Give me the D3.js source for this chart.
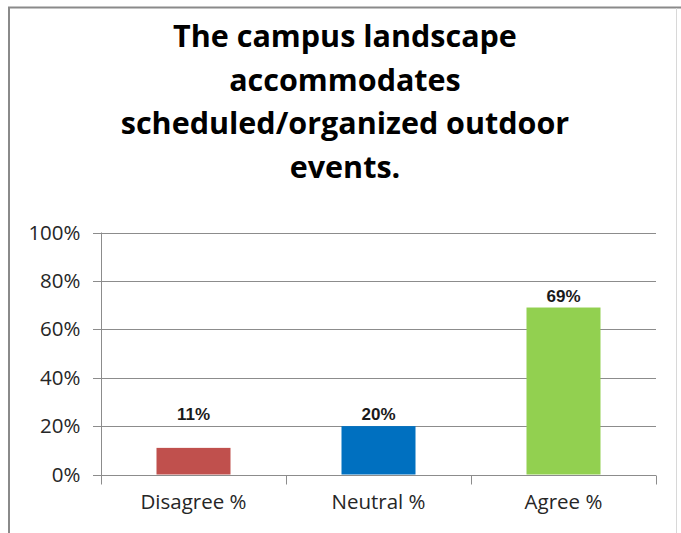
<!DOCTYPE html>
<html>
<head>
<meta charset="utf-8">
<script src="https://cdn.jsdelivr.net/npm/d3@7"></script>
<style>
  html, body { margin: 0; padding: 0; background: #fff; }
  svg { display: block; }
</style>
</head>
<body>
<script>
// chart data
var categories = ["Disagree %", "Neutral %", "Agree %"];
var values = [0.11, 0.20, 0.69];
var barColors = ["#C0504D", "#0070C0", "#92D050"];
var yTicks = [0, 0.2, 0.4, 0.6, 0.8, 1.0];
var titleLines = ["The campus landscape", "accommodates", "scheduled/organized outdoor", "events."];

var width = 681, height = 533;
var svg = d3.select("body").append("svg")
  .attr("width", width)
  .attr("height", height);

// frame
svg.append("rect").attr("x", 0).attr("y", 0).attr("width", width).attr("height", height).attr("fill", "#fff");
svg.append("line").attr("x1", 8).attr("x2", width).attr("y1", 7.5).attr("y2", 7.5)
  .attr("stroke", "#8a8a8a").attr("stroke-width", 2);
svg.append("line").attr("x1", 9).attr("x2", 9).attr("y1", 7).attr("y2", height)
  .attr("stroke", "#8a8a8a").attr("stroke-width", 2);
svg.append("line").attr("x1", 676.5).attr("x2", 676.5).attr("y1", 8).attr("y2", height)
  .attr("stroke", "#d8d8d8").attr("stroke-width", 1);

// title
svg.append("g").selectAll("text")
  .data(titleLines)
  .enter().append("text")
  .attr("x", 345)
  .attr("y", function(d, i) { return 47 + i * 43.5; })
  .attr("text-anchor", "middle")
  .style("font-family", "'Open Sans', Lato, sans-serif")
  .style("font-weight", "bold")
  .style("font-size", "30.5px")
  .attr("fill", "#000")
  .text(function(d) { return d; });

var plot = { left: 101, right: 656, top: 232.5, bottom: 474.5 };

var x = d3.scaleBand()
  .domain(categories)
  .range([plot.left, plot.right])
  .paddingInner(0.6)
  .paddingOuter(0.3);

var y = d3.scaleLinear()
  .domain([0, 1])
  .range([plot.bottom, plot.top]);

// gridlines
svg.append("g").selectAll("line")
  .data(yTicks)
  .enter().append("line")
  .attr("x1", plot.left - 8)
  .attr("x2", plot.right)
  .attr("y1", function(d) { return Math.round(y(d)) + 0.5; })
  .attr("y2", function(d) { return Math.round(y(d)) + 0.5; })
  .attr("stroke", "#8c8c8c")
  .attr("stroke-width", 1);

// y axis
var yAxis = d3.axisLeft(y)
  .tickValues(yTicks)
  .tickFormat(d3.format(".0%"))
  .tickSize(0)
  .tickPadding(21);

var gy = svg.append("g")
  .attr("transform", "translate(" + (plot.left + 0.5) + ",0)")
  .call(yAxis);
gy.select(".domain").attr("stroke", "#8c8c8c").attr("d", "M0," + plot.top + "V" + (plot.bottom + 9));
gy.selectAll("text")
  .style("font-family", "'Open Sans', Lato, sans-serif")
  .style("font-size", "20.5px")
  .attr("fill", "#262626");

// x axis
var xAxis = d3.axisBottom(x).tickSize(0).tickPadding(19);
var gx = svg.append("g")
  .attr("transform", "translate(0," + (Math.round(plot.bottom) + 0.5) + ")")
  .call(xAxis);
gx.select(".domain").attr("stroke", "#8c8c8c").attr("d", "M" + plot.left + ",0H" + plot.right);
gx.selectAll("text")
  .style("font-family", "'Open Sans', Lato, sans-serif")
  .style("font-size", "20.5px")
  .attr("fill", "#262626");

// category dividers
var step = x.step();
gx.append("g").selectAll("line")
  .data(d3.range(categories.length + 1))
  .enter().append("line")
  .attr("x1", function(i) { return Math.round(plot.left + i * step) + 0.5; })
  .attr("x2", function(i) { return Math.round(plot.left + i * step) + 0.5; })
  .attr("y1", 0)
  .attr("y2", 9)
  .attr("stroke", "#8c8c8c");

// bars
svg.append("g").selectAll("rect")
  .data(values)
  .enter().append("rect")
  .attr("x", function(d, i) { return x(categories[i]); })
  .attr("width", x.bandwidth())
  .attr("y", function(d) { return y(d); })
  .attr("height", function(d) { return y(0) - y(d); })
  .attr("fill", function(d, i) { return barColors[i]; });

// data labels
svg.append("g").selectAll("text")
  .data(values)
  .enter().append("text")
  .attr("x", function(d, i) { return x(categories[i]) + x.bandwidth() / 2; })
  .attr("y", function(d) { return Math.min(y(d), y(0.2)) - 6; })
  .attr("text-anchor", "middle")
  .style("font-family", "'Liberation Sans', Arial, sans-serif")
  .style("font-weight", "bold")
  .style("font-size", "17px")
  .attr("fill", "#1a1a1a")
  .text(function(d) { return Math.round(d * 100) + "%"; });
</script>
</body>
</html>
